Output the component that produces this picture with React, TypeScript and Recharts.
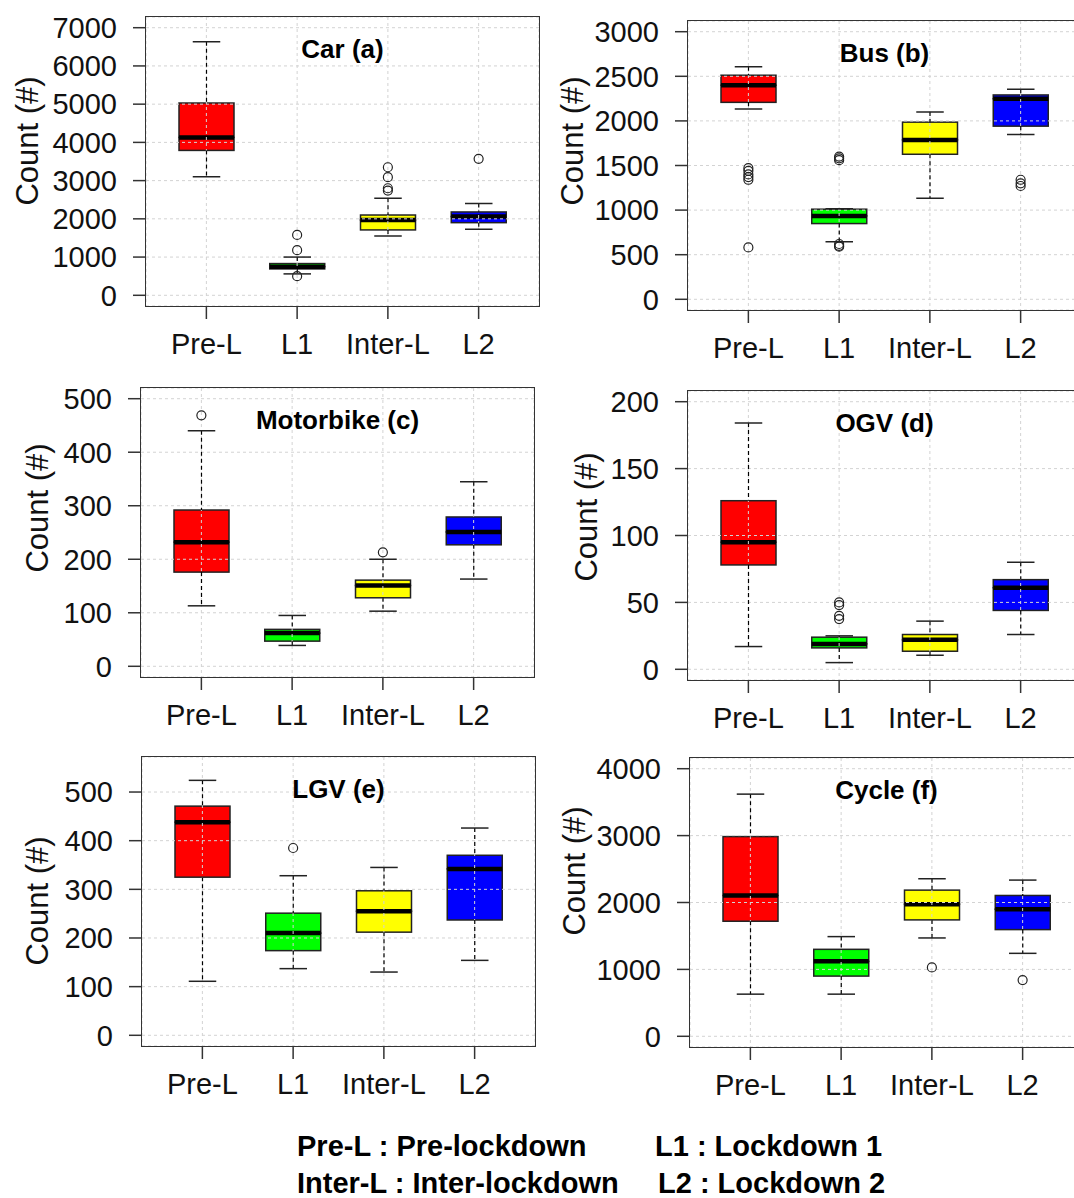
import React from "react";
import {
  Bar,
  CartesianGrid,
  ComposedChart,
  Scatter,
  XAxis,
  YAxis,
} from "recharts";

const FONT = '"Liberation Sans", Arial, sans-serif';

const CATEGORIES = ["Pre-L", "L1", "Inter-L", "L2"];
const FULL_NAMES = ["Pre-lockdown", "Lockdown 1", "Inter-lockdown", "Lockdown 2"];
const BOX_COLORS = ["#FF0000", "#00FF00", "#FFFF00", "#0000FF"];

// [lower whisker, Q1, median, Q3, upper whisker] for each category
const CAR_STATS = [
  [3100, 3790, 4130, 5030, 6630],
  [560, 690, 750, 830, 1000],
  [1550, 1710, 1970, 2100, 2540],
  [1730, 1900, 2060, 2180, 2400],
];
const CAR_OUTLIERS = [[], [1580, 1180, 500], [3350, 3090, 2800, 2740], [3570]];

const BUS_STATS = [
  [2133, 2208, 2400, 2512, 2606],
  [646, 849, 935, 1010, 1015],
  [1134, 1626, 1787, 1986, 2099],
  [1847, 1941, 2249, 2291, 2354],
];
const BUS_OUTLIERS = [
  [1470, 1440, 1400, 1370, 1340, 582],
  [1600, 1580, 1560, 620, 600, 590],
  [],
  [1340, 1300, 1270],
];

const MOTO_STATS = [
  [113, 176, 232, 292, 440],
  [39, 47, 62, 69, 95],
  [103, 128, 151, 161, 200],
  [163, 227, 251, 279, 345],
];
const MOTO_OUTLIERS = [[469], [], [213], []];

const OGV_STATS = [
  [17, 78, 95, 126, 184],
  [5, 16, 19, 24, 25],
  [10.5, 13.5, 22, 26, 36],
  [26, 44, 61, 67, 80],
];
const OGV_OUTLIERS = [[], [50, 48, 40, 37.5], [], []];

const LGV_STATS = [
  [111, 325, 438, 471, 524],
  [137, 174, 210, 251, 328],
  [130, 212, 255, 297, 345],
  [154, 237, 342, 370, 426],
];
const LGV_OUTLIERS = [[], [385], [], []];

const CYCLE_STATS = [
  [630, 1720, 2105, 2985, 3620],
  [630, 900, 1120, 1300, 1490],
  [1470, 1740, 1975, 2185, 2355],
  [1240, 1595, 1900, 2105, 2335],
];
const CYCLE_OUTLIERS = [[], [], [1030], [840]];

const CAR_TICKS = [0, 1000, 2000, 3000, 4000, 5000, 6000, 7000];
const BUS_TICKS = [0, 500, 1000, 1500, 2000, 2500, 3000];
const MOTO_TICKS = [0, 100, 200, 300, 400, 500];
const OGV_TICKS = [0, 50, 100, 150, 200];
const LGV_TICKS = [0, 100, 200, 300, 400, 500];
const CYCLE_TICKS = [0, 1000, 2000, 3000, 4000];

function buildRows(stats: number[][]) {
  return CATEGORIES.map((name, i) => {
    const [lo, q1, med, q3, hi] = stats[i];
    return { name, base: q1, bl: med - q1, bu: q3 - med, range: [lo, hi] };
  });
}

function buildOutliers(out: number[][]) {
  return out.flatMap((vals, i) => vals.map((v) => ({ name: CATEGORIES[i], value: v })));
}

const INK = "#222";

const Empty = () => <g />;

const Whisker = (p: any) => {
  const cx = p.x + p.width / 2;
  const cap = p.width / 4;
  const bottom = p.y + p.height;
  const row = p.payload;
  const span = row.range[1] - row.range[0];
  const boxTop = p.y + (p.height * (row.range[1] - row.base - row.bl - row.bu)) / span;
  const boxBottom = p.y + (p.height * (row.range[1] - row.base)) / span;
  return (
    <g>
      <line x1={cx} x2={cx} y1={p.y} y2={boxTop} stroke="#000" strokeWidth={1.2} strokeDasharray="4 3" />
      <line x1={cx} x2={cx} y1={boxBottom} y2={bottom} stroke="#000" strokeWidth={1.2} strokeDasharray="4 3" />
      <line x1={cx - cap} x2={cx + cap} y1={p.y} y2={p.y} stroke={INK} strokeWidth={1.5} />
      <line x1={cx - cap} x2={cx + cap} y1={bottom} y2={bottom} stroke={INK} strokeWidth={1.5} />
    </g>
  );
};

const LowerBox = (p: any) => (
  <rect x={p.x} y={p.y} width={p.width} height={p.height} fill={BOX_COLORS[p.index]} stroke={INK} strokeWidth={1.5} />
);

const UpperBox = (p: any) => {
  const bottom = p.y + p.height;
  return (
    <g>
      <rect x={p.x} y={p.y} width={p.width} height={p.height} fill={BOX_COLORS[p.index]} stroke={INK} strokeWidth={1.5} />
      <line x1={p.x} x2={p.x + p.width} y1={bottom} y2={bottom} stroke="#000" strokeWidth={4.5} />
    </g>
  );
};

const Outlier = (p: any) => (
  <circle cx={p.cx} cy={p.cy} r={4.5} fill="none" stroke={INK} strokeWidth={1.2} />
);

type PanelProps = {
  title: string;
  stats: number[][];
  outliers: number[][];
  ticks: number[];
  yMax: number;
  plotLeft: number;
  plotTop: number;
  labelX: number;
  labelY: number;
};

const Y_AXIS_W = 146;
const PLOT_W = 393;
const PLOT_H = 289;
const TICK_FONT = { fill: "#111", fontSize: 29, fontFamily: FONT };

function BoxPanel({ title, stats, outliers, ticks, yMax, plotLeft, plotTop, labelX, labelY }: PanelProps) {
  const rows = buildRows(stats);
  const points = buildOutliers(outliers);
  const pad = yMax * 0.04;
  const domain: [number, number] = [-pad, yMax + pad];

  return (
    <>
      <div style={{ position: "absolute", left: plotLeft - Y_AXIS_W, top: plotTop - 17 }}>
        <ComposedChart
          width={Y_AXIS_W + PLOT_W + 21}
          height={17 + PLOT_H + 64}
          data={rows}
          margin={{ top: 17, right: 21, bottom: 0, left: 0 }}
        >
          <XAxis
            dataKey="name"
            type="category"
            allowDuplicatedCategory={false}
            interval={0}
            padding={{ left: 15, right: 15 }}
            height={64}
            axisLine={false}
            tickLine={{ stroke: "#333", strokeWidth: 1.5 }}
            tickSize={13}
            tickMargin={14}
            tick={TICK_FONT}
          />
          <XAxis
            xAxisId="w"
            dataKey="name"
            type="category"
            allowDuplicatedCategory={false}
            padding={{ left: 15, right: 15 }}
            hide
          />
          <YAxis
            type="number"
            domain={domain}
            ticks={ticks}
            allowDataOverflow
            width={Y_AXIS_W}
            axisLine={false}
            tickLine={{ stroke: "#333", strokeWidth: 1.5 }}
            tickSize={13}
            tickMargin={16}
            tick={TICK_FONT}
          />
          <Bar dataKey="base" stackId="box" barSize={55} fill="none" shape={Empty} isAnimationActive={false} />
          <Bar dataKey="bl" stackId="box" barSize={55} shape={LowerBox} isAnimationActive={false} />
          <Bar dataKey="bu" stackId="box" barSize={55} shape={UpperBox} isAnimationActive={false} />
          <CartesianGrid stroke="#D3D3D3" strokeDasharray="3 3" zIndex={1000} />
          <Bar
            xAxisId="w"
            dataKey="range"
            barSize={55}
            shape={Whisker}
            isAnimationActive={false}
            zIndex={1100}
          />
          <Scatter data={points} dataKey="value" shape={Outlier} isAnimationActive={false} zIndex={1100} />
        </ComposedChart>
      </div>
      <div
        style={{
          position: "absolute",
          left: plotLeft - 0.75,
          top: plotTop - 0.75,
          width: PLOT_W + 1.5,
          height: PLOT_H + 1.5,
          boxSizing: "border-box",
          border: "1.5px solid #333",
          pointerEvents: "none",
        }}
      />
      <div
        style={{
          position: "absolute",
          left: plotLeft,
          width: PLOT_W,
          top: plotTop + 17,
          lineHeight: "30px",
          textAlign: "center",
          fontFamily: FONT,
          fontWeight: "bold",
          fontSize: 26,
          color: "#000",
        }}
      >
        {title}
      </div>
      <div
        style={{
          position: "absolute",
          left: labelX,
          top: labelY,
          transform: "translate(-50%, -50%) rotate(-90deg)",
          whiteSpace: "nowrap",
          fontFamily: FONT,
          fontSize: 31,
          color: "#111",
        }}
      >
        Count (#)
      </div>
    </>
  );
}

export default function App() {
  return (
    <div
      style={{
        position: "absolute",
        left: 0,
        top: 0,
        width: 1074,
        height: 1198,
        overflow: "hidden",
        background: "#fff",
      }}
    >
      <BoxPanel title="Car (a)" stats={CAR_STATS} outliers={CAR_OUTLIERS} ticks={CAR_TICKS} yMax={7000}
        plotLeft={146} plotTop={17} labelX={28} labelY={141} />
      <BoxPanel title="Bus (b)" stats={BUS_STATS} outliers={BUS_OUTLIERS} ticks={BUS_TICKS} yMax={3000}
        plotLeft={688} plotTop={21} labelX={573} labelY={141} />
      <BoxPanel title="Motorbike (c)" stats={MOTO_STATS} outliers={MOTO_OUTLIERS} ticks={MOTO_TICKS} yMax={500}
        plotLeft={141} plotTop={388} labelX={38} labelY={508} />
      <BoxPanel title="OGV (d)" stats={OGV_STATS} outliers={OGV_OUTLIERS} ticks={OGV_TICKS} yMax={200}
        plotLeft={688} plotTop={391} labelX={587} labelY={517} />
      <BoxPanel title="LGV (e)" stats={LGV_STATS} outliers={LGV_OUTLIERS} ticks={LGV_TICKS} yMax={550}
        plotLeft={142} plotTop={757} labelX={38} labelY={901} />
      <BoxPanel title="Cycle (f)" stats={CYCLE_STATS} outliers={CYCLE_OUTLIERS} ticks={CYCLE_TICKS} yMax={4000}
        plotLeft={690} plotTop={758} labelX={575} labelY={871} />
      <svg
        width={1074}
        height={88}
        style={{ position: "absolute", left: 0, top: 1110 }}
        fontFamily={FONT}
        fontWeight="bold"
        fontSize={29}
      >
        <text x={297} y={46}>{`${CATEGORIES[0]} : ${FULL_NAMES[0]}`}</text>
        <text x={655} y={46}>{`${CATEGORIES[1]} : ${FULL_NAMES[1]}`}</text>
        <text x={297} y={83}>{`${CATEGORIES[2]} : ${FULL_NAMES[2]}`}</text>
        <text x={658} y={83}>{`${CATEGORIES[3]} : ${FULL_NAMES[3]}`}</text>
      </svg>
    </div>
  );
}
